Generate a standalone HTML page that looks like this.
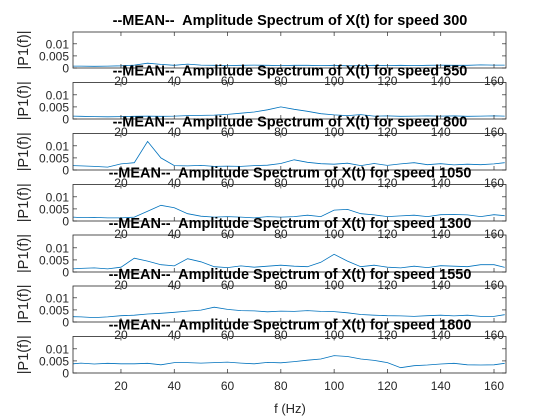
<!DOCTYPE html>
<html><head><meta charset="utf-8"><style>
body{margin:0;background:#fff}
svg{display:block;font-family:"Liberation Sans",sans-serif}
</style></head><body>
<svg id="chart" width="560" height="420" viewBox="0 0 560 420" xmlns="http://www.w3.org/2000/svg"></svg>
<script>
const freqs=[2,5,10,15,20,25,30,35,40,45,50,55,60,65,70,75,80,85,90,95,100,105,110,115,120,125,130,135,140,145,150,155,160,164];
const speeds=["300","550","800","1050","1300","1550","1800"];
const s300=[.0008,.0008,.0007,.0008,.0009,.0012,.002,.0015,.0011,.0016,.0012,.0011,.001,.0011,.0012,.0011,.001,.0011,.0011,.001,.0011,.0009,.001,.0011,.001,.0011,.001,.0011,.0012,.0011,.0011,.0013,.0012,.0012];
const s550=[.0012,.0011,.001,.0009,.001,.0011,.0012,.0011,.0012,.0014,.0015,.0016,.0019,.0024,.0029,.0038,.005,.004,.0032,.0022,.0017,.0014,.0018,.0012,.0013,.0011,.0012,.0013,.0012,.0013,.0011,.0012,.0013,.0012];
const s800=[.0018,.0017,.0015,.0012,.0025,.003,.0118,.005,.0018,.0017,.0019,.0015,.0016,.0015,.0018,.002,.0027,.0042,.0032,.0026,.0024,.0028,.0018,.0027,.0019,.0025,.003,.0022,.0026,.0021,.0024,.0022,.0025,.003];
const s1050=[.0016,.0014,.0015,.0013,.0013,.0016,.004,.0065,.0055,.003,.002,.0016,.0018,.0016,.0013,.0018,.0016,.0018,.0024,.0018,.0045,.0048,.003,.0025,.0018,.0021,.0024,.0018,.0026,.0027,.0025,.0018,.0026,.0022];
const s1300=[.0013,.0015,.0017,.0013,.002,.0057,.0045,.003,.0025,.0055,.0042,.0022,.0018,.0025,.002,.0024,.0028,.0024,.0022,.004,.0073,.0045,.0022,.0028,.002,.0017,.0024,.0018,.0026,.0024,.0022,.003,.003,.0019];
const s1550=[.0022,.0021,.0018,.0021,.0026,.0028,.0033,.0036,.004,.0045,.0049,.0061,.0052,.0047,.0046,.0042,.0045,.0044,.0047,.0044,.0043,.0038,.0031,.0028,.0026,.0025,.0023,.0026,.0028,.0025,.0028,.0023,.0023,.003];
const s1800=[.0038,.0041,.0037,.004,.0038,.0038,.004,.0034,.0043,.0043,.0041,.0043,.0045,.0041,.0038,.0044,.0042,.0047,.0053,.0058,.0072,.0068,.0058,.0052,.0043,.0022,.003,.0033,.0037,.004,.0034,.0033,.0034,.004];
const series=[s300,s550,s800,s1050,s1300,s1550,s1800];
const xTicks=[20,40,60,80,100,120,140,160];
const yTicks=[0,0.005,0.01];
const yTickLabels=["0","0.005","0.01"];

const svg=document.getElementById('chart');
const NS="http://www.w3.org/2000/svg";
const X0=73,X1=506,XMIN=2,XMAX=164.5;
const tops=[32,82.5,133.5,184.5,235,286,336.5];
const bots=[68,119,170,221,272,322,373];
const PXU=2420;
function xs(v){return X0+(v-XMIN)/(XMAX-XMIN)*(X1-X0);}
function mk(tag,attrs,parent){const e=document.createElementNS(NS,tag);for(const k in attrs)e.setAttribute(k,attrs[k]);(parent||svg).appendChild(e);return e;}
const titles=[];
for(let p=0;p<7;p++){
  const top=tops[p],bot=bots[p];
  const ys=v=>bot-v*PXU;
  const g=mk('g',{});
  
  
  const d=freqs.map((f,i)=>(i?'L':'M')+xs(f).toFixed(1)+' '+Math.max(top,ys(series[p][i])).toFixed(1)).join(' ');
  const path=mk('path',{d:d,fill:'none',stroke:'#0072BD','stroke-width':0.8},g);
  
  
  const box=mk('rect',{x:X0,y:top,width:X1-X0,height:bot-top,fill:'none',stroke:'#262626','stroke-width':0.8},g);
  
  
  xTicks.forEach(t=>{
    const x=xs(t);
    mk('line',{x1:x,x2:x,y1:bot,y2:bot-4,stroke:'#262626','stroke-width':0.7},g);
    mk('line',{x1:x,x2:x,y1:top,y2:top+4,stroke:'#262626','stroke-width':0.7},g);
    const tl=mk('text',{x:x,y:bot+17,'text-anchor':'middle','font-size':12,fill:'#262626'},g);
    tl.textContent=t;
    
    
  });
  yTicks.forEach((t,i)=>{
    const y=ys(t);
    mk('line',{x1:X0,x2:X0+4,y1:y,y2:y,stroke:'#262626','stroke-width':0.7},g);
    mk('line',{x1:X1,x2:X1-4,y1:y,y2:y,stroke:'#262626','stroke-width':0.7},g);
    const tl=mk('text',{x:X0-4,y:y+4.5,'text-anchor':'end','font-size':12,fill:'#262626'},g);
    tl.textContent=yTickLabels[i];
    
    
  });
  const cy=(top+bot)/2;
  const yl=mk('text',{x:0,y:0,transform:'translate(28,'+cy+') rotate(-90)','text-anchor':'middle','font-size':14.5,fill:'#262626'},g);
  yl.textContent='|P1(f)|';
  
  
  titles.push(top);
}
titles.forEach((top,p)=>{
  const t=mk('text',{x:290,y:top-7,'text-anchor':'middle','font-size':14.5,'font-weight':'bold',fill:'#000','xml:space':'preserve'});
  t.setAttribute('style','white-space:pre');
  t.textContent='--MEAN--  Amplitude Spectrum of X(t) for speed '+speeds[p];
  
  
});
const xl=mk('text',{x:290,y:413,'text-anchor':'middle','font-size':13,fill:'#262626'});
xl.textContent='f (Hz)';


</script>
</body></html>
